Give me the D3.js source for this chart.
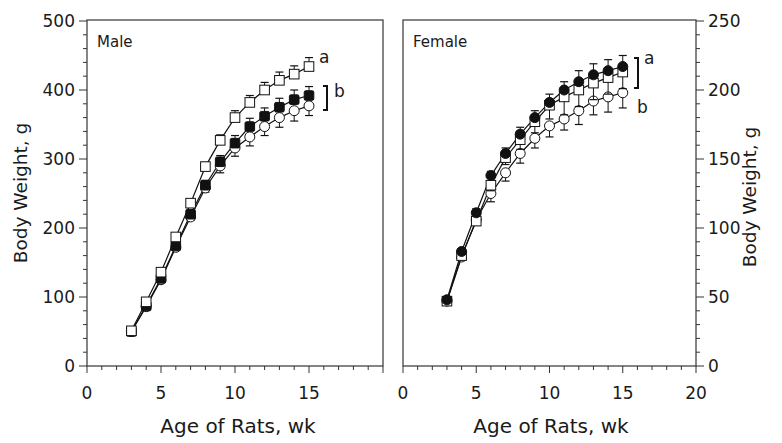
<html>
<script src="https://cdnjs.cloudflare.com/ajax/libs/d3/7.8.5/d3.min.js"></script>
<body style="margin:0;background:white">
<div id="graph"></div>
</body>
<script>
    // weeks of age
    var weeks = [3, 4, 5, 6, 7, 8, 9, 10, 11, 12, 13, 14, 15]

    // male body weight, g
    var maleOpenSq   = [51, 93, 136, 187, 236, 289, 327, 360, 382, 400, 414, 423, 434]
    var maleOpenSqSD = [0, 2, 3, 4, 5, 6, 8, 10, 10, 11, 12, 12, 13]
    var maleFilled   = [50, 87, 127, 174, 220, 262, 296, 323, 347, 362, 375, 386, 392]
    var maleFilledSD = [0, 2, 3, 4, 6, 7, 9, 11, 12, 12, 13, 14, 13]
    var maleCircle   = [50, 86, 125, 172, 216, 258, 290, 316, 332, 347, 360, 370, 377]
    var maleCircleSD = [0, 2, 3, 4, 5, 6, 10, 12, 13, 13, 14, 15, 14]

    // female body weight, g
    var femFilled   = [48, 83, 111, 138, 154, 168, 180, 191, 200, 206, 211, 214, 217]
    var femFilledSD = [0, 2, 3, 3, 4, 5, 5, 6, 6, 8, 8, 8, 8]
    var femOpenSq   = [47, 80, 105, 131, 151, 164, 177, 189, 195, 200, 205, 209, 213]
    var femOpenSqSD = [0, 2, 3, 4, 5, 7, 8, 10, 13, 12, 12, 12, 12]
    var femCircle   = [47, 79, 106, 125, 140, 154, 165, 174, 179, 185, 192, 195, 198]
    var femCircleSD = [0, 2, 3, 6, 6, 7, 7, 8, 8, 10, 10, 11, 11]

    var xTicks = [0, 5, 10, 15, 20]
    var maleYTicks = [0, 100, 200, 300, 400, 500]
    var femYTicks = [0, 50, 100, 150, 200, 250]

    var FONT = "'DejaVu Sans', sans-serif"
    var INK = "#1a1a1a"
    var svg = d3.select("#graph").append("svg")
        .attr("width", 782).attr("height", 443)
        .style("font-family", FONT)

    var TOP = 21, BOTTOM = 366

    function panel(x0, x1, ymax, series, yTicks, side, title) {
        var X = d3.scaleLinear().domain([0, 20]).range([x0, x1])
        var Y = d3.scaleLinear().domain([0, ymax]).range([BOTTOM, TOP])
        var g = svg.append("g")

        // frame
        g.append("rect").attr("x", x0).attr("y", TOP - 1).attr("width", x1 - x0).attr("height", BOTTOM - TOP + 1)
            .attr("fill", "none").attr("stroke", "#444").attr("stroke-width", 1.3)

        // x axis ticks, minor every week
        d3.range(0, 21).forEach(function (t) {
            var major = t % 5 == 0
            g.append("line").attr("x1", X(t)).attr("x2", X(t))
                .attr("y1", BOTTOM).attr("y2", BOTTOM + (major ? 7 : 4))
                .attr("stroke", "#333").attr("stroke-width", 1)
        })
        xTicks.forEach(function (t) {
            if (side == "left" && t == 20) return
            g.append("text").attr("x", X(t)).attr("y", 399).attr("text-anchor", "middle")
                .attr("font-size", 17).attr("fill", INK).text(t)
        })

        // y axis
        var ax = side == "left" ? x0 : x1
        var dir = side == "left" ? -1 : 1
        var minor = ymax / 25
        d3.range(0, 26).forEach(function (i) {
            var v = i * minor
            var major = i % 5 == 0
            g.append("line").attr("x1", ax).attr("x2", ax + dir * (major ? 8 : 4))
                .attr("y1", Y(v)).attr("y2", Y(v)).attr("stroke", "#333").attr("stroke-width", 1)
        })
        yTicks.forEach(function (v) {
            g.append("text").attr("x", ax + dir * 12).attr("y", Y(v) + 6)
                .attr("text-anchor", side == "left" ? "end" : "start")
                .attr("font-size", 17).attr("fill", INK).text(v)
        })

        g.append("text").attr("x", x0 + 10).attr("y", 47).attr("font-size", 15).attr("fill", INK).text(title)

        // lines
        var line = d3.line().x(function (d) { return X(d[0]) }).y(function (d) { return Y(d[1]) })
        series.forEach(function (s) {
            var pts = weeks.map(function (w, i) { return [w, s.values[i]] })
            g.append("path").attr("d", line(pts)).attr("fill", "none").attr("stroke", "#111").attr("stroke-width", 1.2)
        })

        // error bars + markers
        series.forEach(function (s) {
            weeks.forEach(function (w, i) {
                var v = s.values[i], sd = s.sd[i]
                if (sd > 0) {
                    var e = v + s.dir * sd
                    g.append("line").attr("x1", X(w)).attr("x2", X(w)).attr("y1", Y(v)).attr("y2", Y(e))
                        .attr("stroke", "#111").attr("stroke-width", 1)
                    g.append("line").attr("x1", X(w) - 4).attr("x2", X(w) + 4).attr("y1", Y(e)).attr("y2", Y(e))
                        .attr("stroke", "#111").attr("stroke-width", 1.2)
                }
            })
            weeks.forEach(function (w, i) {
                var cx = X(w), cy = Y(s.values[i])
                if (s.shape == "square") {
                    g.append("rect").attr("x", cx - 4.8).attr("y", cy - 4.8).attr("width", 9.6).attr("height", 9.6)
                        .attr("rx", s.fill == "#111" ? 1.5 : 0)
                        .attr("fill", s.fill).attr("stroke", "#111").attr("stroke-width", 1)
                } else {
                    g.append("circle").attr("cx", cx).attr("cy", cy).attr("r", 5)
                        .attr("fill", s.fill).attr("stroke", "#111").attr("stroke-width", 1)
                }
            })
        })
        return { X: X, Y: Y, g: g }
    }

    var male = panel(87, 383, 500, [
        { values: maleCircle, sd: maleCircleSD, dir: -1, shape: "circle", fill: "white" },
        { values: maleFilled, sd: maleFilledSD, dir: 1, shape: "square", fill: "#111" },
        { values: maleOpenSq, sd: maleOpenSqSD, dir: 1, shape: "square", fill: "white" }
    ], maleYTicks, "left", "Male")

    var female = panel(403, 696, 250, [
        { values: femCircle, sd: femCircleSD, dir: -1, shape: "circle", fill: "white" },
        { values: femOpenSq, sd: femOpenSqSD, dir: -1, shape: "square", fill: "white" },
        { values: femFilled, sd: femFilledSD, dir: 1, shape: "circle", fill: "#111" }
    ], femYTicks, "right", "Female")

    // significance brackets
    function bracket(x, y1, y2) {
        svg.append("path").attr("d", "M" + (x - 4) + "," + y1 + "H" + x + "V" + y2 + "H" + (x - 4))
            .attr("fill", "none").attr("stroke", "#111").attr("stroke-width", 2)
    }
    function note(x, y, t) {
        svg.append("text").attr("x", x).attr("y", y).attr("font-size", 17).attr("fill", INK).text(t)
    }
    note(319, 63, "a")
    bracket(327, 86, 110)
    note(334, 97, "b")
    bracket(638, 58, 88)
    note(644, 64, "a")
    note(637, 113, "b")

    // axis titles
    svg.append("text").attr("transform", "translate(27,193) rotate(-90)").attr("text-anchor", "middle")
        .attr("font-size", 18.5).attr("fill", INK).text("Body Weight, g")
    svg.append("text").attr("transform", "translate(756,197) rotate(-90)").attr("text-anchor", "middle")
        .attr("font-size", 18.5).attr("fill", INK).text("Body Weight, g")
    svg.append("text").attr("x", 238).attr("y", 433).attr("text-anchor", "middle")
        .attr("font-size", 20).attr("fill", INK).text("Age of Rats, wk")
    svg.append("text").attr("x", 551).attr("y", 433).attr("text-anchor", "middle")
        .attr("font-size", 20).attr("fill", INK).text("Age of Rats, wk")
</script>
</html>
